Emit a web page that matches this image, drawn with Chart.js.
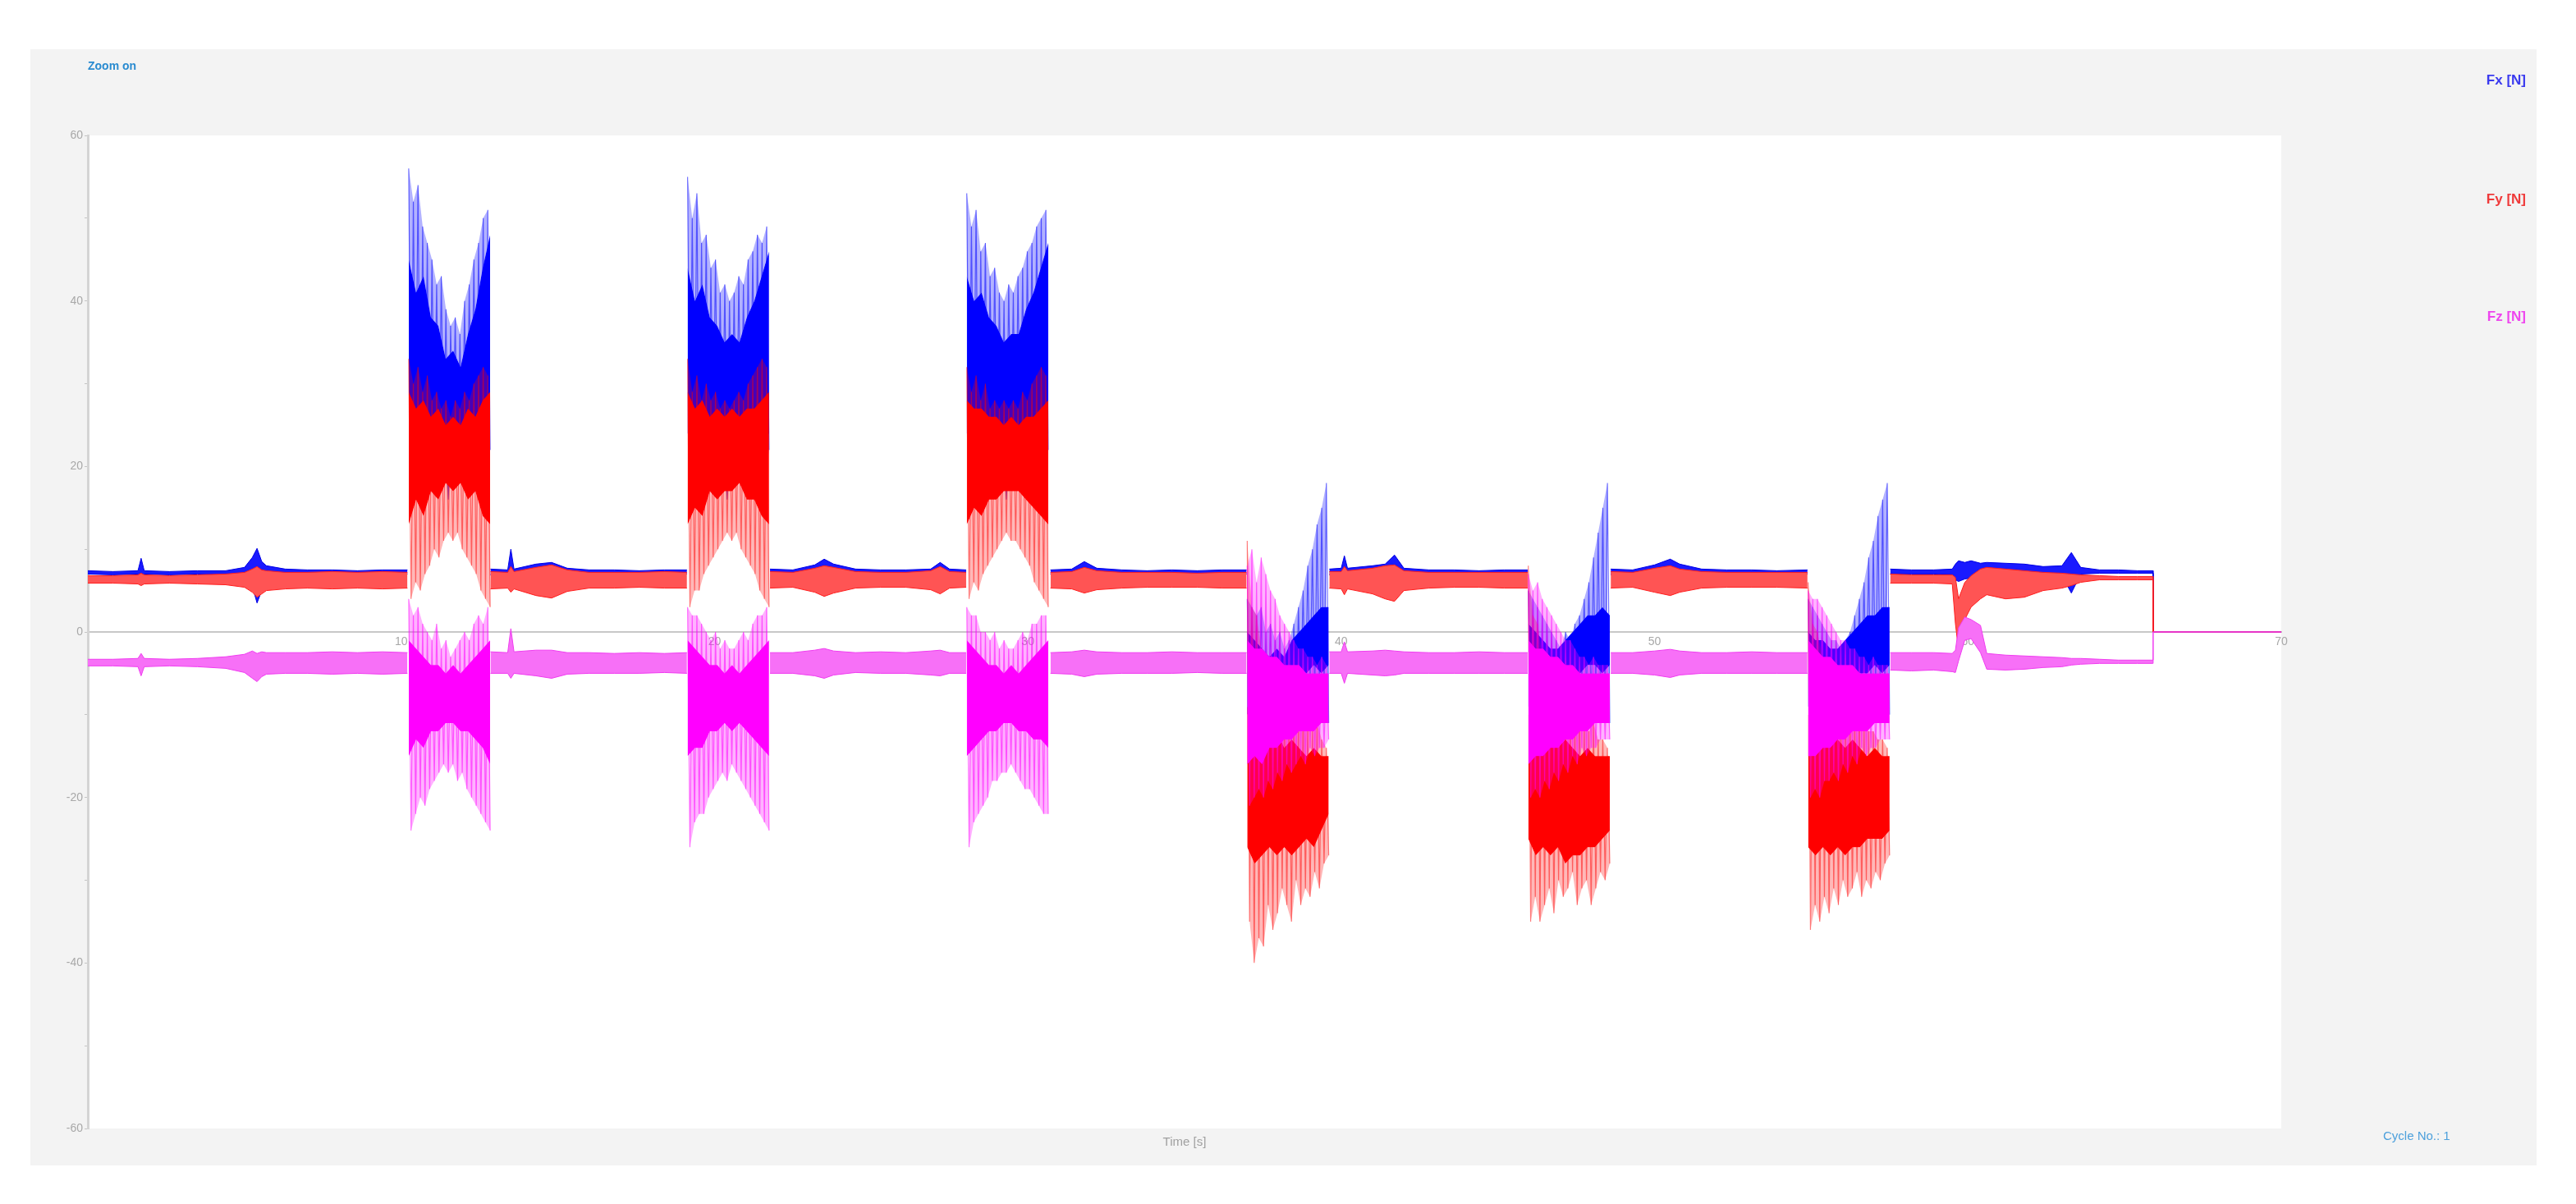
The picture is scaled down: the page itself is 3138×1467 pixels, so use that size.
<!DOCTYPE html>
<html>
<head>
<meta charset="utf-8">
<script src="https://cdn.jsdelivr.net/npm/chart.js@4.4.1/dist/chart.umd.min.js"></script>
<style>
  body { margin: 0; background: #fff; width: 3138px; height: 1467px; position: relative; overflow: hidden; font-family: "Liberation Sans", Arial, sans-serif; }
  #panel { position: absolute; left: 37px; top: 60px; width: 3053px; height: 1360px; background: #f3f3f3; }
  #forceChart { position: absolute; left: 0; top: 0; }
  .lbl { position: absolute; white-space: nowrap; line-height: 1; }
</style>
</head>
<body>
<div id="panel"></div>
<canvas id="forceChart" width="3138" height="1467"></canvas>
<div class="lbl" style="left:107px;top:73px;font-size:14px;font-weight:bold;color:#2a8bd0">Zoom on</div>
<div class="lbl" style="right:61px;top:89px;font-size:17px;font-weight:bold;color:#3a3aef">Fx [N]</div>
<div class="lbl" style="right:61px;top:234px;font-size:17px;font-weight:bold;color:#ef3a3a">Fy [N]</div>
<div class="lbl" style="right:61px;top:377px;font-size:17px;font-weight:bold;color:#ee46ee">Fz [N]</div>
<div class="lbl" style="left:1443px;top:1383px;transform:translateX(-50%);font-size:15px;color:#a0a0a0">Time [s]</div>
<div class="lbl" style="left:2903px;top:1376px;font-size:15px;color:#4da0dc">Cycle No.: 1</div>
<script>
// quiet parts of the signal: upper / lower edge of each force band (N), null = burst gap
let bandTime = [
  0, 0.8, 1.6, 1.7, 1.8, 2.6, 3.5, 4.4, 5.0, 5.25, 5.4, 5.55, 5.7, 6.3, 7.0, 7.8, 8.6, 9.4, 10.2, null,
  12.85, 13.4, 13.5, 13.6, 14.3, 14.8, 15.3, 16.0, 16.8, 17.6, 18.4, 19.12, null,
  21.77, 22.5, 23.2, 23.5, 23.8, 24.5, 25.3, 26.1, 26.9, 27.2, 27.5, 28.03, null,
  30.72, 31.4, 31.8, 32.2, 33.0, 33.8, 34.6, 35.4, 36.2, 36.98, null,
  39.62, 40.0, 40.1, 40.2, 41.0, 41.4, 41.7, 42.0, 42.8, 43.6, 44.4, 45.2, 45.95, null,
  48.6, 49.3, 50.0, 50.5, 50.8, 51.5, 52.3, 53.1, 53.9, 54.88, null,
  57.52, 58.2, 58.9, 59.5, 59.6, 59.7, 59.9, 60.1, 60.4, 60.6, 61.2, 61.8, 62.4, 63.0, 63.3, 63.6, 64.2, 64.8, 65.4, 65.9, 65.91, 70
]
let fxBandHi = [
  7.4, 7.3, 7.4, 8.9, 7.4, 7.3, 7.4, 7.4, 7.8, 9.0, 10.1, 8.5, 8.0, 7.6, 7.5, 7.5, 7.4, 7.5, 7.5, null,
  7.6, 7.5, 10.0, 7.6, 8.2, 8.4, 7.7, 7.5, 7.5, 7.4, 7.5, 7.5, null,
  7.6, 7.5, 8.1, 8.8, 8.2, 7.6, 7.5, 7.5, 7.6, 8.4, 7.6, 7.5, null,
  7.5, 7.6, 8.5, 7.7, 7.5, 7.4, 7.5, 7.4, 7.5, 7.5, null,
  7.6, 7.7, 9.2, 7.7, 8.0, 8.2, 9.3, 7.7, 7.5, 7.5, 7.4, 7.5, 7.5, null,
  7.6, 7.5, 8.1, 8.8, 8.2, 7.6, 7.5, 7.5, 7.4, 7.5, null,
  7.6, 7.5, 7.5, 7.6, 8.2, 8.6, 8.4, 8.6, 8.3, 8.4, 8.3, 8.2, 7.9, 8.0, 9.6, 7.8, 7.5, 7.5, 7.4, 7.4, 0, 0
]
let fxBandLo = [
  7.0, 6.9, 7.0, 6.3, 7.0, 6.9, 7.0, 6.9, 6.5, 5.5, 3.5, 5.0, 6.3, 6.9, 7.0, 6.9, 7.0, 6.9, 7.0, null,
  6.9, 7.0, 6.0, 6.9, 6.3, 5.9, 6.7, 7.0, 7.0, 7.0, 7.0, 7.0, null,
  6.9, 7.0, 6.5, 6.0, 6.4, 6.9, 7.0, 7.0, 6.8, 6.1, 6.9, 7.0, null,
  7.0, 6.9, 6.3, 6.8, 7.0, 7.0, 7.0, 7.0, 7.0, 7.0, null,
  6.9, 6.8, 5.6, 6.8, 6.5, 6.2, 5.8, 6.8, 7.0, 7.0, 7.0, 7.0, 7.0, null,
  6.9, 7.0, 6.5, 6.1, 6.5, 6.9, 7.0, 7.0, 7.0, 7.0, null,
  7.0, 7.0, 7.0, 6.9, 6.3, 6.1, 6.4, 6.5, 6.7, 6.6, 6.7, 6.8, 7.0, 6.8, 4.7, 7.0, 7.1, 7.1, 7.1, 7.1, 0, 0
]
let fyBandHi = [
  6.8, 6.8, 6.9, 7.1, 6.9, 6.8, 6.9, 7.0, 7.2, 7.6, 7.9, 7.5, 7.4, 7.2, 7.2, 7.3, 7.2, 7.3, 7.2, null,
  7.3, 7.2, 7.9, 7.3, 7.8, 8.1, 7.5, 7.2, 7.2, 7.2, 7.3, 7.2, null,
  7.3, 7.2, 7.7, 8.0, 7.8, 7.3, 7.2, 7.2, 7.4, 7.9, 7.3, 7.2, null,
  7.2, 7.3, 7.8, 7.4, 7.2, 7.2, 7.2, 7.1, 7.2, 7.2, null,
  7.3, 7.3, 7.9, 7.4, 7.7, 8.0, 8.1, 7.4, 7.2, 7.2, 7.2, 7.2, 7.2, null,
  7.3, 7.2, 7.7, 8.0, 7.6, 7.3, 7.2, 7.2, 7.2, 7.2, null,
  7.0, 6.9, 6.9, 6.9, 6.6, 4.0, 6.0, 6.8, 7.6, 7.8, 7.6, 7.4, 7.2, 7.1, 7.0, 6.9, 6.8, 6.7, 6.7, 6.7, 0, 0
]
let fyBandLo = [
  5.9, 5.9, 5.8, 5.6, 5.8, 5.9, 5.8, 5.7, 5.4, 4.8, 4.2, 4.6, 5.0, 5.2, 5.3, 5.2, 5.3, 5.2, 5.3, null,
  5.2, 5.3, 4.8, 5.2, 4.4, 4.1, 4.9, 5.3, 5.3, 5.4, 5.3, 5.3, null,
  5.3, 5.4, 4.8, 4.3, 4.7, 5.3, 5.4, 5.4, 5.1, 4.6, 5.3, 5.4, null,
  5.3, 5.2, 4.7, 5.1, 5.3, 5.4, 5.4, 5.4, 5.3, 5.3, null,
  5.3, 5.2, 4.5, 5.2, 4.6, 4.0, 3.7, 5.0, 5.3, 5.4, 5.4, 5.3, 5.3, null,
  5.3, 5.4, 4.8, 4.4, 4.8, 5.3, 5.4, 5.4, 5.4, 5.3, null,
  5.9, 5.9, 5.9, 5.8, 1.0, -2.2, 1.5, 3.0, 4.0, 4.5, 4.0, 4.2, 5.0, 5.3, 5.6, 6.0, 6.3, 6.3, 6.3, 6.3, 0, 0
]
let fzBandHi = [
  -3.3, -3.3, -3.2, -2.6, -3.2, -3.3, -3.2, -3.0, -2.7, -2.3, -2.6, -2.4, -2.5, -2.5, -2.5, -2.4, -2.5, -2.4, -2.5, null,
  -2.4, -2.5, 0.4, -2.4, -2.2, -2.2, -2.5, -2.5, -2.6, -2.5, -2.6, -2.5, null,
  -2.5, -2.5, -2.2, -2.0, -2.3, -2.5, -2.4, -2.5, -2.3, -2.2, -2.5, -2.5, null,
  -2.5, -2.4, -2.2, -2.4, -2.5, -2.5, -2.4, -2.5, -2.5, -2.5, null,
  -2.4, -2.4, -1.2, -2.4, -2.3, -2.2, -2.3, -2.4, -2.5, -2.5, -2.4, -2.5, -2.5, null,
  -2.5, -2.5, -2.3, -2.1, -2.3, -2.5, -2.5, -2.4, -2.5, -2.5, null,
  -2.5, -2.5, -2.5, -2.6, -2.2, 0.5, 1.8, 1.5, 0.8, -2.6, -2.8, -2.9, -3.0, -3.1, -3.2, -3.2, -3.3, -3.4, -3.4, -3.4, 0, 0
]
let fzBandLo = [
  -4.1, -4.1, -4.2, -5.3, -4.2, -4.1, -4.2, -4.4, -4.9, -5.6, -6.0, -5.4, -5.1, -5.0, -5.0, -5.1, -5.0, -5.1, -5.0, null,
  -5.0, -5.0, -5.6, -5.0, -5.3, -5.6, -5.1, -5.0, -5.0, -5.0, -4.9, -5.0, null,
  -5.0, -5.0, -5.3, -5.6, -5.2, -4.9, -5.0, -5.0, -5.2, -5.3, -5.0, -5.0, null,
  -5.0, -5.1, -5.4, -5.1, -5.0, -5.0, -5.0, -4.9, -5.0, -5.0, null,
  -5.0, -5.0, -6.2, -5.0, -5.2, -5.3, -5.2, -5.0, -5.0, -5.0, -5.0, -5.0, -5.0, null,
  -5.0, -5.0, -5.2, -5.5, -5.2, -5.0, -5.0, -5.0, -5.0, -5.0, null,
  -4.6, -4.7, -4.6, -4.8, -4.9, -3.5, -1.0, -0.8, -2.5, -4.5, -4.6, -4.5, -4.3, -4.2, -4.0, -3.9, -3.8, -3.8, -3.8, -3.8, 0, 0
]

// the six load bursts: start time (s) and length (s)
let burstStart = [10.24, 19.14, 28.05, 37.0, 45.97, 54.9]
let burstSpan = 2.6

// spike extremes inside each burst, high/low alternating
let fxSpikes = [
  [56,20, 52,24, 54,18, 49,22, 47,17, 45,23, 42,19, 43,21, 39,16, 37,22, 38,18, 36,20, 40,17, 42,23, 45,19, 47,21, 50,18, 51,22],
  [55,20, 50,24, 53,18, 47,22, 48,17, 44,23, 45,19, 41,21, 42,16, 40,22, 41,18, 43,20, 42,17, 45,23, 46,19, 48,21, 47,18, 49,22],
  [53,20, 49,24, 51,18, 46,22, 47,17, 43,23, 44,19, 41,21, 40,16, 42,22, 41,18, 43,20, 44,17, 46,23, 47,19, 49,21, 50,18, 51,22],
  [4,-13, 3,-11, 2,-14, 3,-12, 0,-11, 1,-13, -1,-10, 0,-12, -2,-9, -1,-11, 1,-10, 3,-8, 5,-9, 8,-7, 10,-9, 13,-8, 15,-10, 18,-11],
  [5,-12, 4,-13, 3,-11, 2,-12, 1,-10, 0,-11, -1,-9, -2,-10, 0,-8, -1,-10, 1,-9, 2,-7, 4,-8, 6,-9, 9,-8, 12,-9, 15,-10, 18,-11],
  [4,-12, 3,-13, 2,-11, 1,-12, 0,-10, -1,-11, -1,-9, -2,-10, -1,-9, 0,-8, 2,-9, 4,-7, 6,-8, 9,-9, 11,-8, 14,-9, 16,-9, 18,-10]
]
let fySpikes = [
  [33,4, 30,6, 32,5, 29,7, 31,8, 28,10, 29,9, 27,11, 28,12, 26,11, 28,12, 27,10, 29,9, 28,8, 30,7, 31,5, 32,4, 31,3],
  [33,3, 29,5, 31,5, 28,7, 30,8, 28,9, 29,10, 27,11, 28,12, 27,11, 28,12, 29,10, 28,9, 30,8, 31,7, 32,5, 33,4, 32,3],
  [32,4, 29,6, 31,5, 28,7, 30,8, 27,9, 28,10, 27,11, 28,12, 27,11, 28,11, 27,10, 29,9, 28,8, 30,6, 31,5, 32,4, 31,3],
  [11,-35, 3,-40, 2,-37, -2,-38, -4,-33, -3,-36, -6,-34, -5,-31, -8,-33, -7,-35, -9,-30, -10,-33, -9,-31, -11,-32, -12,-29, -11,-31, -13,-28, -14,-27],
  [8,-35, 2,-32, 1,-35, -3,-33, -4,-31, -5,-34, -6,-30, -7,-32, -8,-31, -9,-29, -10,-33, -9,-31, -11,-30, -12,-33, -11,-31, -13,-29, -13,-30, -14,-28],
  [6,-36, 1,-33, 0,-35, -3,-32, -5,-34, -4,-31, -6,-33, -7,-30, -8,-32, -9,-31, -10,-29, -9,-32, -11,-30, -12,-31, -12,-29, -13,-30, -13,-28, -14,-27]
]
let fzSpikes = [
  [4,-24, 2,-22, 3,-20, 1,-21, 0,-19, -1,-18, 1,-17, -2,-16, -1,-17, -3,-16, -2,-18, -1,-17, 0,-19, -1,-20, 1,-21, 2,-22, 1,-23, 3,-24],
  [3,-26, 2,-23, 2,-22, 1,-22, 0,-20, -1,-19, 0,-18, -2,-17, -1,-18, -2,-16, -2,-17, -1,-18, 0,-19, -1,-20, 1,-21, 2,-22, 2,-23, 3,-24],
  [3,-26, 2,-23, 2,-22, 0,-21, 0,-20, -1,-18, 0,-18, -2,-17, -1,-17, -2,-16, -2,-17, -1,-18, 0,-19, -1,-19, 1,-20, 1,-21, 2,-22, 2,-22],
  [8,-21, 10,-20, 6,-19, 9,-20, 7,-18, 5,-19, 4,-17, 2,-18, 1,-16, 0,-17, -1,-16, -2,-15, -2,-16, -3,-14, -3,-15, -4,-14, -3,-14, -4,-13],
  [7,-20, 5,-19, 6,-20, 4,-18, 3,-19, 2,-17, 1,-18, 0,-16, -1,-17, -1,-15, -2,-16, -3,-14, -3,-15, -4,-14, -3,-14, -4,-13, -4,-13, -4,-13],
  [5,-20, 4,-19, 4,-20, 3,-18, 2,-18, 1,-17, 0,-18, -1,-16, -1,-17, -2,-15, -2,-16, -3,-14, -3,-15, -4,-14, -3,-14, -4,-13, -4,-13, -4,-13]
]

// dense core of each burst (upper / lower edge)
let fxCoreHi = [
  [45,41,43,38,37,33,34,32,36,39,44,48], [44,40,42,38,37,35,36,35,38,40,43,46], [43,40,41,38,37,35,36,36,39,41,44,47],
  [0,-1,-2,-3,-2,-3,-1,0,1,2,3,3], [1,0,-1,-2,-2,-1,0,1,2,2,3,2], [0,-1,-1,-2,-2,-1,0,1,2,2,3,3]
]
let fxCoreLo = [
  [24,23,24,22,23,22,23,22,23,24,23,24], [24,23,24,22,23,22,23,22,23,24,23,24], [24,23,24,22,23,22,23,22,23,24,23,24],
  [-10,-9,-10,-8,-8,-7,-6,-5,-5,-4,-5,-4], [-9,-10,-9,-8,-7,-6,-5,-5,-4,-4,-5,-4], [-9,-10,-9,-8,-7,-6,-5,-5,-5,-4,-5,-4]
]
let fyCoreHi = [
  [29,27,28,26,27,25,26,25,27,26,28,29], [29,27,28,26,27,26,27,26,27,27,28,29], [28,27,27,26,26,25,26,25,26,26,27,28],
  [-9,-11,-12,-13,-12,-14,-13,-14,-15,-14,-15,-15], [-10,-11,-13,-12,-14,-13,-14,-15,-14,-15,-15,-15], [-10,-11,-12,-13,-13,-14,-13,-14,-15,-14,-15,-15]
]
let fyCoreLo = [
  [13,16,14,17,16,18,17,18,16,17,14,13], [13,15,14,17,16,17,17,18,16,16,14,13], [13,15,14,16,16,17,17,17,16,15,14,13],
  [-26,-28,-27,-26,-27,-26,-27,-26,-25,-26,-24,-22], [-25,-27,-26,-27,-26,-28,-27,-27,-26,-26,-25,-24], [-26,-27,-26,-27,-26,-27,-26,-26,-25,-25,-25,-24]
]
let fzCoreHi = [
  [-1,-2,-3,-4,-4,-5,-4,-5,-4,-3,-2,-1], [-1,-2,-3,-4,-4,-5,-4,-5,-4,-3,-2,-1], [-1,-2,-3,-4,-4,-5,-4,-5,-4,-3,-2,-1],
  [-1,-2,-2,-3,-3,-4,-4,-4,-5,-5,-5,-5], [-1,-2,-2,-3,-3,-4,-4,-5,-5,-5,-5,-5], [-1,-2,-3,-3,-4,-4,-4,-5,-5,-5,-5,-5]
]
let fzCoreLo = [
  [-15,-13,-14,-12,-12,-11,-11,-12,-12,-13,-14,-16], [-15,-14,-14,-12,-12,-11,-12,-11,-12,-13,-14,-15], [-15,-14,-13,-12,-12,-11,-11,-12,-12,-13,-13,-14],
  [-16,-15,-16,-14,-14,-13,-13,-12,-12,-12,-11,-11], [-16,-15,-15,-14,-14,-13,-13,-12,-12,-11,-11,-11], [-15,-15,-14,-14,-13,-13,-12,-12,-12,-11,-11,-11]
]

let timeTicks = [10, 20, 30, 40, 50, 60, 70]
let forceTicks = [-60, -40, -20, 0, 20, 40, 60]

function burstPoints(b, values) {
  let step = burstSpan / (values.length - 1)
  return values.map(function(v, i) {
    return {x: burstStart[b] + i * step, y: v}
  })
}

// every other spike point: the high tips (start 0) or the low tips (start 1)
function tipPoints(points, first) {
  return points.filter(function(p, i) { return i % 2 === first })
}

function bandSegments(hi, lo) {
  let segments = []
  let current = null
  bandTime.forEach(function(t, i) {
    if (t === null) { current = null; return }
    if (!current) { current = {hi: [], lo: []}; segments.push(current) }
    current.hi.push({x: t, y: hi[i]})
    current.lo.push({x: t, y: lo[i]})
  })
  return segments
}

let clear = 'rgba(0,0,0,0)'

function seriesSets(s) {
  let sets = []
  burstStart.forEach(function(start, b) {
    let spikes = burstPoints(b, s.spikes[b])
    sets.push({data: burstPoints(b, s.coreHi[b]), borderColor: clear, borderWidth: 1, fill: false})
    sets.push({data: burstPoints(b, s.coreLo[b]), borderColor: clear, borderWidth: 1, backgroundColor: s.coreColor, fill: '-1'})
    sets.push({data: spikes, borderColor: s.spikeColor, borderWidth: 1.2, fill: false})
    // pale haze between the spike tips and the core edges
    sets.push({data: tipPoints(spikes, 0), borderColor: clear, borderWidth: 1, backgroundColor: s.hazeColor, fill: '-3'})
    sets.push({data: tipPoints(spikes, 1), borderColor: clear, borderWidth: 1, backgroundColor: s.hazeColor, fill: '-3'})
  })
  bandSegments(s.bandHi, s.bandLo).forEach(function(seg) {
    sets.push({data: seg.hi, borderColor: s.lineColor, borderWidth: 1, fill: false})
    sets.push({data: seg.lo, borderColor: s.lineColor, borderWidth: 1, backgroundColor: s.bandColor, fill: '-1'})
  })
  return sets
}

// first in the list is drawn on top
let datasets = []
  .concat(seriesSets({spikes: fzSpikes, coreHi: fzCoreHi, coreLo: fzCoreLo, bandHi: fzBandHi, bandLo: fzBandLo,
    spikeColor: 'rgba(255,0,255,0.55)', hazeColor: 'rgba(255,0,255,0.3)', coreColor: '#ff00ff', bandColor: '#f770f7', lineColor: '#f03cf0'}))
  .concat(seriesSets({spikes: fySpikes, coreHi: fyCoreHi, coreLo: fyCoreLo, bandHi: fyBandHi, bandLo: fyBandLo,
    spikeColor: 'rgba(255,0,0,0.5)', hazeColor: 'rgba(255,0,0,0.28)', coreColor: '#ff0000', bandColor: '#ff5454', lineColor: '#ff1e1e'}))
  .concat(seriesSets({spikes: fxSpikes, coreHi: fxCoreHi, coreLo: fxCoreLo, bandHi: fxBandHi, bandLo: fxBandLo,
    spikeColor: 'rgba(0,0,255,0.55)', hazeColor: 'rgba(0,0,255,0.3)', coreColor: '#0000ff', bandColor: '#1a1aff', lineColor: '#0000e6'}))

let plotBackground = {
  id: 'plotBackground',
  beforeDraw: function(chart) {
    let a = chart.chartArea
    let ctx = chart.ctx
    ctx.save()
    ctx.fillStyle = '#ffffff'
    ctx.fillRect(a.left, a.top, a.right - a.left, a.bottom - a.top)
    ctx.restore()
  }
}

Chart.defaults.font.family = '"Liberation Sans", Arial, sans-serif'

new Chart(document.querySelector('#forceChart'), {
  type: 'line',
  data: {datasets: datasets},
  plugins: [plotBackground],
  options: {
    responsive: false,
    animation: false,
    layout: {padding: {left: 37, top: 165, right: 359, bottom: 92}},
    elements: {point: {radius: 0}, line: {tension: 0, borderJoinStyle: 'bevel'}},
    plugins: {legend: {display: false}, tooltip: {enabled: false}},
    scales: {
      x: {
        type: 'linear', min: 0, max: 70,
        position: {y: 0},
        afterFit: function(scale) { scale.paddingLeft = 0; scale.paddingRight = 0 },
        afterBuildTicks: function(scale) { scale.ticks = timeTicks.map(function(v) { return {value: v} }) },
        grid: {display: true, drawOnChartArea: false, drawTicks: false},
        border: {display: true, color: '#c8c8c8', width: 2},
        ticks: {color: '#a8a8a8', font: {size: 14}, padding: 4, autoSkip: false, maxRotation: 0}
      },
      y: {
        type: 'linear', min: -60, max: 60,
        afterFit: function(scale) { scale.width = 70; scale.paddingTop = 0; scale.paddingBottom = 0 },
        afterBuildTicks: function(scale) {
          scale.ticks = [-60, -50, -40, -30, -20, -10, 0, 10, 20, 30, 40, 50, 60].map(function(v) { return {value: v} })
        },
        grid: {display: true, drawOnChartArea: false, drawTicks: true, tickLength: 4, color: '#c4c4c4'},
        border: {display: true, color: '#d4d4d4', width: 3},
        ticks: {
          color: '#a8a8a8', font: {size: 14}, padding: 2, autoSkip: false,
          callback: function(v) { return forceTicks.indexOf(v) >= 0 ? String(v) : '' }
        }
      }
    }
  }
})
</script>
</body>
</html>
